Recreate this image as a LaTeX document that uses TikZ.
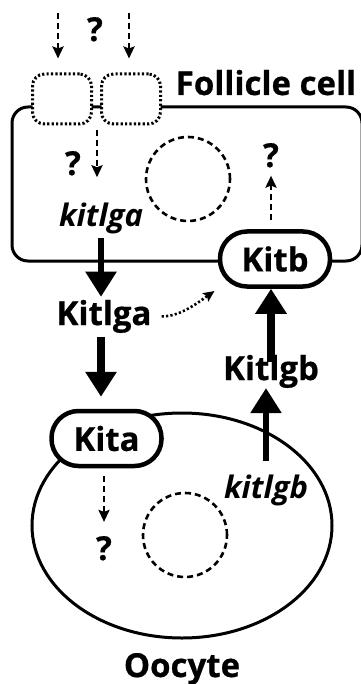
\documentclass[tikz,border=0pt]{standalone}
\usepackage{fontspec}
\setmainfont{Open Sans}[BoldFeatures={FakeBold=0.6}]
\usetikzlibrary{arrows.meta,shapes.geometric}

\begin{document}
\begin{tikzpicture}[x=1pt, y=-1pt,
  every node/.style = {inner sep=0pt, font=\fontsize{33}{33}\selectfont\bfseries},
  label/.style = {anchor=base},
  gene/.style = {anchor=base, font=\fontsize{31}{31}\selectfont\bfseries\itshape},
  receptor/.style = {draw, line width=4.5pt, fill=white, rounded corners=27pt,
    minimum width=110pt, minimum height=55pt},
  channel/.style = {draw, line width=3pt, dash pattern=on 2.2pt off 2.2pt,
    fill=white, rounded corners=12pt, minimum width=59pt, minimum height=50pt},
  nucleus/.style = {draw, circle, line width=2.6pt, dash pattern=on 6pt off 4pt,
    minimum size=84pt},
  membrane/.style = {draw, line width=3pt},
  dasharrow/.style = {line width=2.6pt, dash pattern=on 6pt off 4pt,
    -{Stealth[length=12pt, width=11pt, inset=2pt]}},
  dotarrow/.style = {line width=2.6pt, dash pattern=on 2.2pt off 2.2pt,
    -{Stealth[length=11pt, width=10pt, inset=2pt]}},
  genearrow/.style = {line width=5.5pt, -{Triangle[length=25pt, width=30pt]}},
  ligandarrow/.style = {line width=8pt, -{Triangle[length=25pt, width=30pt]}}]
  \useasboundingbox (0,0) rectangle (360,684);

  % follicle cell
  \node[membrane, rounded corners=16pt, minimum width=350pt, minimum height=154pt]
    (cell) at (187,184) {};
  \node[channel] (ch1) at (62,99) {};
  \node[channel] (ch2) at (131,99) {};
  \node[nucleus] (nuc1) at (188,179) {};
  \node[label] (cellname) at (266,95) {Follicle cell};
  \node[receptor] (Kitb) at (275,259) {Kitb};

  % oocyte
  \node[membrane, ellipse, minimum width=300pt, minimum height=225pt]
    (oocyte) at (182,525.5) {};
  \node[nucleus] (nuc2) at (185,535) {};
  \node[receptor] (Kita) at (106.5,438.5) {Kita};
  \node[label] (oocytename) at (182,677) {Oocyte};

  % texts
  \node[label] (q1) at (95,41) {?};
  \node[label] (q2) at (73,175) {?};
  \node[label] (q3) at (271,167) {?};
  \node[label] (q4) at (104,560) {?};
  \node[gene] (kitlga) at (101,227) {kitlga};
  \node[label] (Kitlga) at (104,325) {Kitlga};
  \node[label] (Kitlgb) at (271,380) {Kitlgb};
  \node[gene] (kitlgb) at (266,498) {kitlgb};

  \coordinate (in1) at (58,13);
  \coordinate (in2) at (129,13);
  \coordinate (pore) at (97,124);

  % connectors
  \draw[dasharrow, shorten >=14pt] (in1) -- (in1 |- ch1.north);
  \draw[dasharrow, shorten >=14pt] (in2) -- (in2 |- ch2.north);
  \draw[dasharrow, shorten <=6pt, shorten >=26pt] (pore) -- (pore |- kitlga.north);
  \draw[dasharrow, shorten <=9pt, shorten >=8pt] (q3 |- Kitb.north) -- (q3.south);
  \draw[dasharrow, shorten <=8pt, shorten >=14pt] (q4 |- Kita.south) -- (q4.north);
  \draw[genearrow, shorten <=3pt, shorten >=3pt] (kitlga.south) -- (kitlga.south |- Kitlga.north);
  \draw[ligandarrow, shorten <=4pt, shorten >=12pt] (Kitlga.south -| kitlga) -- (kitlga |- Kita.north);
  \draw[dotarrow, shorten <=10pt, shorten >=4pt] (Kitlga.east) to[out=0, in=215] (Kitb.south west);
  \draw[genearrow, shorten <=13pt] (kitlgb.north) -- (kitlgb.north |- Kitlgb.south);
  \draw[ligandarrow, shorten <=-7pt] (Kitlgb.north) -- (Kitlgb.north |- Kitb.south);
\end{tikzpicture}
\end{document}
